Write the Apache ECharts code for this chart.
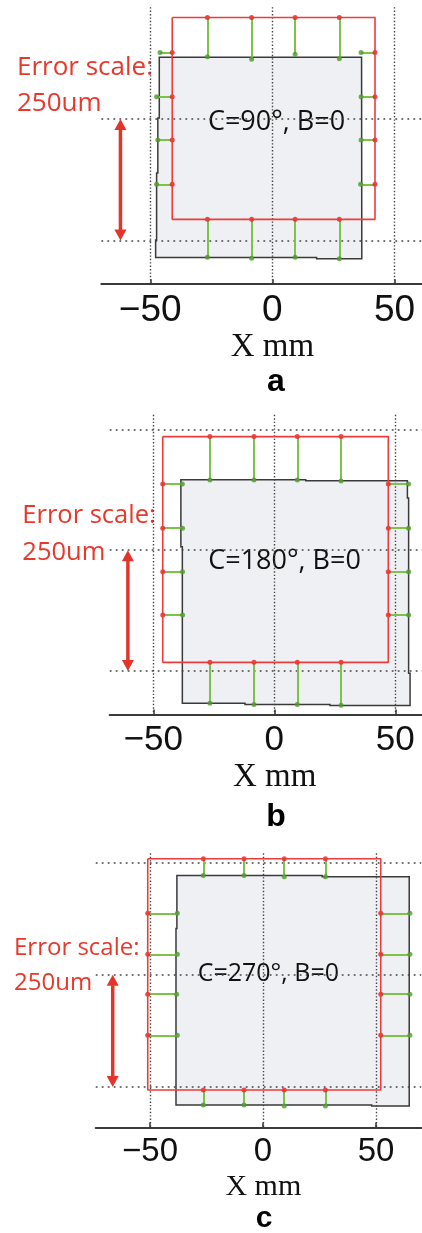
<!DOCTYPE html>
<html>
<head>
<meta charset="utf-8">
<script src="https://cdn.jsdelivr.net/npm/echarts@6/dist/echarts.min.js"></script>
<style>
  html, body { margin: 0; padding: 0; background: #fff; }
  #chart { width: 422px; height: 1233px; }
</style>
</head>
<body>
<div id="chart"></div>
<script>
// labels
const panelNames = ['a', 'b', 'c'];
const angleLabels = ['C=90°, B=0', 'C=180°, B=0', 'C=270°, B=0'];
const errorLabel = ['Error scale:', '250um'];
const xTicks = [-50, 0, 50];
const yGridValues = [-50, 0, 50];

// axis ranges (mm)
const xRanges = [[-70, 61], [-68, 61], [-74, 70]];
const yRanges = [[-68, 46], [-68, 56], [-68, 54]];

// nominal square [left, right, bottom, top] and probe positions (mm)
const nominalBox = [[-41.0, 42.0, -41.3, 41.8], [-46.1, 47.1, -46.4, 47.0], [-51.0, 52.1, -51.3, 51.6]];
const probeX = [[-26.6, -8.5, 9.3, 27.4], [-26.6, -8.4, 9.5, 27.6], [-26.4, -8.4, 9.4, 27.6]];
const probeY = [[27.4, 9.2, -8.6, -26.9], [27.4, 9.1, -8.9, -26.8], [27.3, 9.1, -8.7, -27.0]];

// measured points, error scaled (mm)
const measuredTop = [[25.6, 24.6, 26.6, 24.8], [29.0, 29.0, 29.0, 28.6], [44.1, 44.1, 43.6, 43.6]];
const measuredBottom = [[-56.9, -57.3, -56.9, -57.5], [-63.3, -63.8, -63.8, -64.2], [-58.0, -58.0, -58.4, -58.4]];
const measuredLeft = [[-46.0, -47.4, -46.9, -47.4], [-38.0, -37.9, -37.9, -37.9], [-37.9, -37.9, -38.2, -37.9]];
const measuredRight = [[36.3, 36.3, 36.3, 36.1], [55.5, 55.5, 55.5, 55.5], [65.0, 65.0, 65.0, 65.0]];

// measured outline of the part
const outlineA = [[-46.3, 25.4], [36.5, 25.4], [36.6, -57.5], [18.1, -57.5], [18.1, -57.0], [-47.8, -57.0],
  [-47.8, -49.8], [-47.4, -49.8], [-47.4, -22.2], [-46.9, -22.2], [-46.9, 0.4], [-46.3, 0.4]];
const outlineB = [[-38.6, 29.1], [13.0, 29.1], [13.0, 28.7], [55.0, 28.7], [55.0, 21.6], [55.5, 21.6],
  [55.5, -50.9], [56.1, -50.9], [56.1, -64.3], [23.0, -64.3], [23.0, -63.8], [-12.1, -63.8],
  [-12.1, -63.3], [-38.0, -63.3], [-38.0, 1.4], [-38.6, 1.4]];
const outlineC = [[-38.1, 44.1], [26.2, 44.1], [26.2, 43.6], [64.7, 43.6], [64.7, -58.4], [48.1, -58.4],
  [48.1, -58.0], [-38.5, -58.0], [-38.5, 20.6], [-38.1, 20.6]];
const outlines = [outlineA, outlineB, outlineC];

// error scale arrow: x, from y, to y (mm)
const arrowX = [-62.2, -60.5, -66.5];
const arrowSpan = [0, -50];

// layout: pixel origin and px per mm, text sizes
const layout = [
  { x0: 272.4, y0: 119, sx: 2.443, sy: 2.43, tick: 37, err: 26, errX: 17, errY: [79, 115],
    cx: 276.5, cy: 132, cs: 27, nameX: 272.5, nameY: 358, nameS: 33, lx: 276, ly: 393.3, ls: 32 },
  { x0: 274.3, y0: 550.2, sx: 2.42, sy: 2.417, tick: 35, err: 25.5, errX: 22.3, errY: [527.3, 564],
    cx: 284.5, cy: 570.7, cs: 27, nameX: 274.7, nameY: 788.3, nameS: 33, lx: 276, ly: 828.3, ls: 32 },
  { x0: 263, y0: 974.7, sx: 2.26, sy: 2.247, tick: 33, err: 24, errX: 14, errY: [959.3, 994],
    cx: 268.3, cy: 982.3, cs: 25, nameX: 263.3, nameY: 1196.7, nameS: 30, lx: 264, ly: 1229, ls: 30 }
];

const RED = '#ee3b3b';
const ARROW_RED = '#e3342a';
const GREEN = '#7dc24b';
const GREEN_DOT = '#4f9a2b';

const chart = echarts.init(document.getElementById('chart'), null, { renderer: 'canvas' });

const grids = [], xAxes = [], yAxes = [], series = [], graphics = [];

layout.forEach((L, p) => {
  const [xmin, xmax] = xRanges[p];
  const [ymin, ymax] = yRanges[p];
  grids.push({
    left: L.x0 + xmin * L.sx,
    top: L.y0 - ymax * L.sy,
    width: (xmax - xmin) * L.sx,
    height: (ymax - ymin) * L.sy
  });
  xAxes.push({
    gridIndex: p, type: 'value', min: xmin, max: xmax,
    axisLine: { onZero: false, lineStyle: { color: '#3a3a3a', width: 2.2 } },
    axisTick: { inside: true, length: 5, customValues: xTicks, lineStyle: { color: '#333', width: 1.5 } },
    axisLabel: {
      customValues: xTicks, margin: 8, color: '#111', fontFamily: 'Liberation Sans', fontSize: L.tick,
      formatter: v => (v < 0 ? '\u2212' + Math.abs(v) : String(v))
    },
    splitLine: { show: true, lineStyle: { color: '#444', width: 1.4, type: [1.4, 2] } }
  });
  yAxes.push({
    gridIndex: p, type: 'value', min: ymin, max: ymax,
    axisLine: { show: false },
    axisTick: { show: false, customValues: yGridValues },
    axisLabel: { show: false, customValues: yGridValues },
    splitLine: { show: true, lineStyle: { color: '#444', width: 1.6, type: [1.8, 4.2] } }
  });

  const box = nominalBox[p];
  const [bl, br, bb, bt] = box;
  const pts = outlines[p];

  // measured outline (drawn under grid lines)
  series.push({
    type: 'custom', xAxisIndex: p, yAxisIndex: p, z: -1, silent: true,
    data: [pts[0]],
    renderItem: (params, api) => ({
      type: 'polygon',
      shape: { points: pts.map(pt => api.coord(pt)) },
      style: { fill: '#eff0f3', stroke: '#3a3a3a', lineWidth: 1.5 }
    })
  });

  // nominal square
  series.push({
    type: 'line', xAxisIndex: p, yAxisIndex: p, symbol: 'none', silent: true,
    lineStyle: { color: RED, width: 1.6 },
    data: [[bl, bt], [br, bt], [br, bb], [bl, bb], [bl, bt]]
  });

  const segs = [], redDots = [], greenDots = [];
  probeX[p].forEach((x, i) => {
    segs.push({ coords: [[x, bt], [x, measuredTop[p][i]]] });
    segs.push({ coords: [[x, bb], [x, measuredBottom[p][i]]] });
    redDots.push([x, bt], [x, bb]);
    greenDots.push([x, measuredTop[p][i]], [x, measuredBottom[p][i]]);
  });
  probeY[p].forEach((y, i) => {
    segs.push({ coords: [[bl, y], [measuredLeft[p][i], y]] });
    segs.push({ coords: [[br, y], [measuredRight[p][i], y]] });
    redDots.push([bl, y], [br, y]);
    greenDots.push([measuredLeft[p][i], y], [measuredRight[p][i], y]);
  });

  series.push({
    type: 'lines', coordinateSystem: 'cartesian2d', xAxisIndex: p, yAxisIndex: p, silent: true,
    lineStyle: { color: GREEN, width: 2, opacity: 1 },
    data: segs
  });
  series.push({
    type: 'scatter', xAxisIndex: p, yAxisIndex: p, symbolSize: 5, silent: true,
    itemStyle: { color: GREEN_DOT }, data: greenDots
  });
  series.push({
    type: 'scatter', xAxisIndex: p, yAxisIndex: p, symbolSize: 5, silent: true,
    itemStyle: { color: '#e62222' }, data: redDots
  });

  // error scale arrow
  series.push({
    type: 'custom', xAxisIndex: p, yAxisIndex: p, silent: true,
    data: [[arrowX[p], arrowSpan[0], arrowSpan[1]]],
    encode: { x: 0, y: [1, 2] },
    renderItem: (params, api) => {
      const a = api.coord([api.value(0), api.value(1)]);
      const b = api.coord([api.value(0), api.value(2)]);
      const w = 6, h = 11;
      return {
        type: 'group',
        children: [
          { type: 'line', shape: { x1: a[0], y1: a[1] + h - 1, x2: b[0], y2: b[1] - h + 1 },
            style: { stroke: ARROW_RED, lineWidth: 3.5 } },
          { type: 'polygon', shape: { points: [[a[0], a[1]], [a[0] - w, a[1] + h], [a[0] + w, a[1] + h]] },
            style: { fill: ARROW_RED } },
          { type: 'polygon', shape: { points: [[b[0], b[1]], [b[0] - w, b[1] - h], [b[0] + w, b[1] - h]] },
            style: { fill: ARROW_RED } }
        ]
      };
    }
  });

  // texts
  errorLabel.forEach((t, i) => {
    graphics.push({
      type: 'text', left: L.errX, top: L.errY[i] - L.err * 0.95, silent: true,
      style: { text: t, fill: '#e8382c', font: L.err + 'px "Open Sans"' }
    });
  });
  graphics.push({
    type: 'text', x: L.cx, y: L.cy - L.cs * 0.35, silent: true,
    style: { text: angleLabels[p], fill: '#111', font: L.cs + 'px "Open Sans"', align: 'center', verticalAlign: 'middle' }
  });
  graphics.push({
    type: 'text', x: L.nameX, y: L.nameY - L.nameS * 0.33, silent: true,
    style: { text: 'X mm', fill: '#111', font: L.nameS + 'px "Liberation Serif"', align: 'center', verticalAlign: 'middle' }
  });
  graphics.push({
    type: 'text', x: L.lx, y: L.ly - L.ls * 0.35, silent: true,
    style: { text: panelNames[p], fill: '#000', font: 'bold ' + L.ls + 'px "Liberation Sans"', align: 'center', verticalAlign: 'middle' }
  });
});

chart.setOption({
  animation: false,
  backgroundColor: '#fff',
  grid: grids,
  xAxis: xAxes,
  yAxis: yAxes,
  series: series,
  graphic: graphics
});

window.addEventListener('resize', () => chart.resize());
</script>
</body>
</html>
